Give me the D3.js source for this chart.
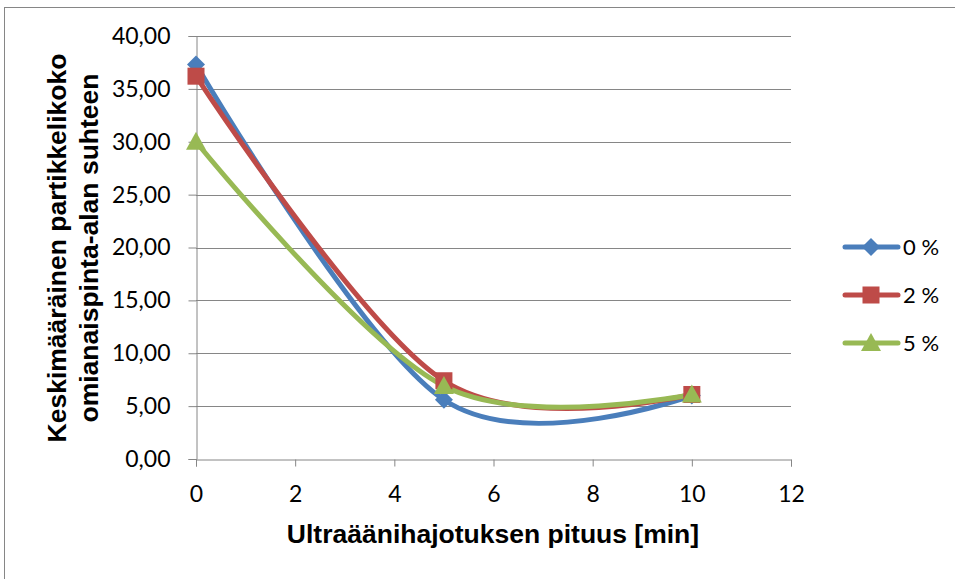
<!DOCTYPE html>
<html><head><meta charset="utf-8">
<script src="https://cdn.jsdelivr.net/npm/d3@7"></script>
<style>body{margin:0;background:#fff}svg{display:block}</style>
</head><body>
<svg id="chart" width="955" height="579"></svg>
<script>
// Ultrasonic dispersion time vs. mean particle size
const xValues = [0, 5, 10];
const seriesNames = ["0 %", "2 %", "5 %"];
const series0 = [37.3, 5.6, 6.0];
const series2 = [36.2, 7.4, 6.1];
const series5 = [30.0, 6.9, 6.1];
const yTicks = [0, 5, 10, 15, 20, 25, 30, 35, 40];
const xTicks = [0, 2, 4, 6, 8, 10, 12];
const colors = ["#4A7EBB", "#BE4B48", "#98B954"];
const markerTypes = ["diamond", "square", "triangle"];

const svg = d3.select("#chart");
const x = d3.scaleLinear().domain([0, 12]).range([196, 791]);
const y = d3.scaleLinear().domain([0, 40]).range([459, 36]);
const grid = "#868686";
const tickFont = "Lato, 'Open Sans', sans-serif";
const titleFont = "'Liberation Sans', Arial, sans-serif";

// outer frame
svg.append("rect").attr("x", 4.5).attr("y", 7.5).attr("width", 960).attr("height", 600)
  .attr("fill", "none").attr("stroke", grid).attr("stroke-width", 1);

// horizontal gridlines
svg.append("g").selectAll("line").data(yTicks.filter(d => d > 0)).join("line")
  .attr("x1", x(0)).attr("x2", x(12))
  .attr("y1", d => Math.round(y(d)) + 0.5).attr("y2", d => Math.round(y(d)) + 0.5)
  .attr("stroke", grid).attr("stroke-width", 1);

const fmt = d => d3.format(".2f")(d).replace(".", ",");

const yAxis = svg.append("g").attr("transform", `translate(${x(0) + 0.5},0)`)
  .call(d3.axisLeft(y).tickValues(yTicks).tickFormat(fmt).tickSizeOuter(0).tickSize(8).tickPadding(18));
const xAxis = svg.append("g").attr("transform", `translate(0,${Math.round(y(0)) + 0.5})`)
  .call(d3.axisBottom(x).tickValues(xTicks).tickSizeOuter(0).tickSize(7).tickPadding(19));
[yAxis, xAxis].forEach(g => {
  g.selectAll("path,line").attr("stroke", grid);
  g.selectAll("text").attr("font-family", tickFont)
    .attr("font-size", 23).attr("fill", "#000");
});

// series lines
const allSeries = [series0, series2, series5];
const line = d3.line().x((d, i) => x(xValues[i])).y(d => y(d))
  .curve(d3.curveCardinal.tension(0));
allSeries.forEach((s, k) => {
  svg.append("path").datum(s).attr("d", line).attr("fill", "none")
    .attr("stroke", colors[k]).attr("stroke-width", 5)
    .attr("stroke-linecap", "round").attr("stroke-linejoin", "round");
});

function marker(g, type, cx, cy, color) {
  if (type === "diamond") {
    g.append("path").attr("d", `M${cx},${cy - 9}L${cx + 9},${cy}L${cx},${cy + 9}L${cx - 9},${cy}Z`).attr("fill", color);
  } else if (type === "square") {
    g.append("rect").attr("x", cx - 8.5).attr("y", cy - 8.5).attr("width", 17).attr("height", 17).attr("fill", color);
  } else {
    g.append("path").attr("d", `M${cx},${cy - 10}L${cx + 10},${cy + 8}L${cx - 10},${cy + 8}Z`).attr("fill", color);
  }
}
allSeries.forEach((s, k) => {
  const g = svg.append("g");
  s.forEach((v, i) => marker(g, markerTypes[k], x(xValues[i]), y(v), colors[k]));
});

// legend
seriesNames.forEach((name, k) => {
  const ly = 247 + k * 48;
  const g = svg.append("g");
  g.append("line").attr("x1", 845).attr("x2", 898).attr("y1", ly).attr("y2", ly)
    .attr("stroke", colors[k]).attr("stroke-width", 5).attr("stroke-linecap", "round");
  marker(g, markerTypes[k], 871, ly, colors[k]);
  g.append("text").attr("x", 903).attr("y", ly + 8).text(name)
    .attr("font-family", tickFont).attr("font-size", 22).attr("fill", "#000");
});

// axis titles
svg.append("text").attr("x", 493).attr("y", 543).attr("text-anchor", "middle")
  .attr("font-family", titleFont).attr("font-weight", "bold")
  .attr("font-size", 26.5).text("Ultraäänihajotuksen pituus [min]");
const yt = svg.append("text").attr("transform", "translate(0,248) rotate(-90)")
  .attr("text-anchor", "middle").attr("font-family", titleFont)
  .attr("font-weight", "bold").attr("font-size", 26.5);
yt.append("tspan").attr("x", 0).attr("y", 66).text("Keskimääräinen partikkelikoko");
yt.append("tspan").attr("x", 0).attr("y", 98).text("omianaispinta-alan suhteen");
</script>
</body></html>
